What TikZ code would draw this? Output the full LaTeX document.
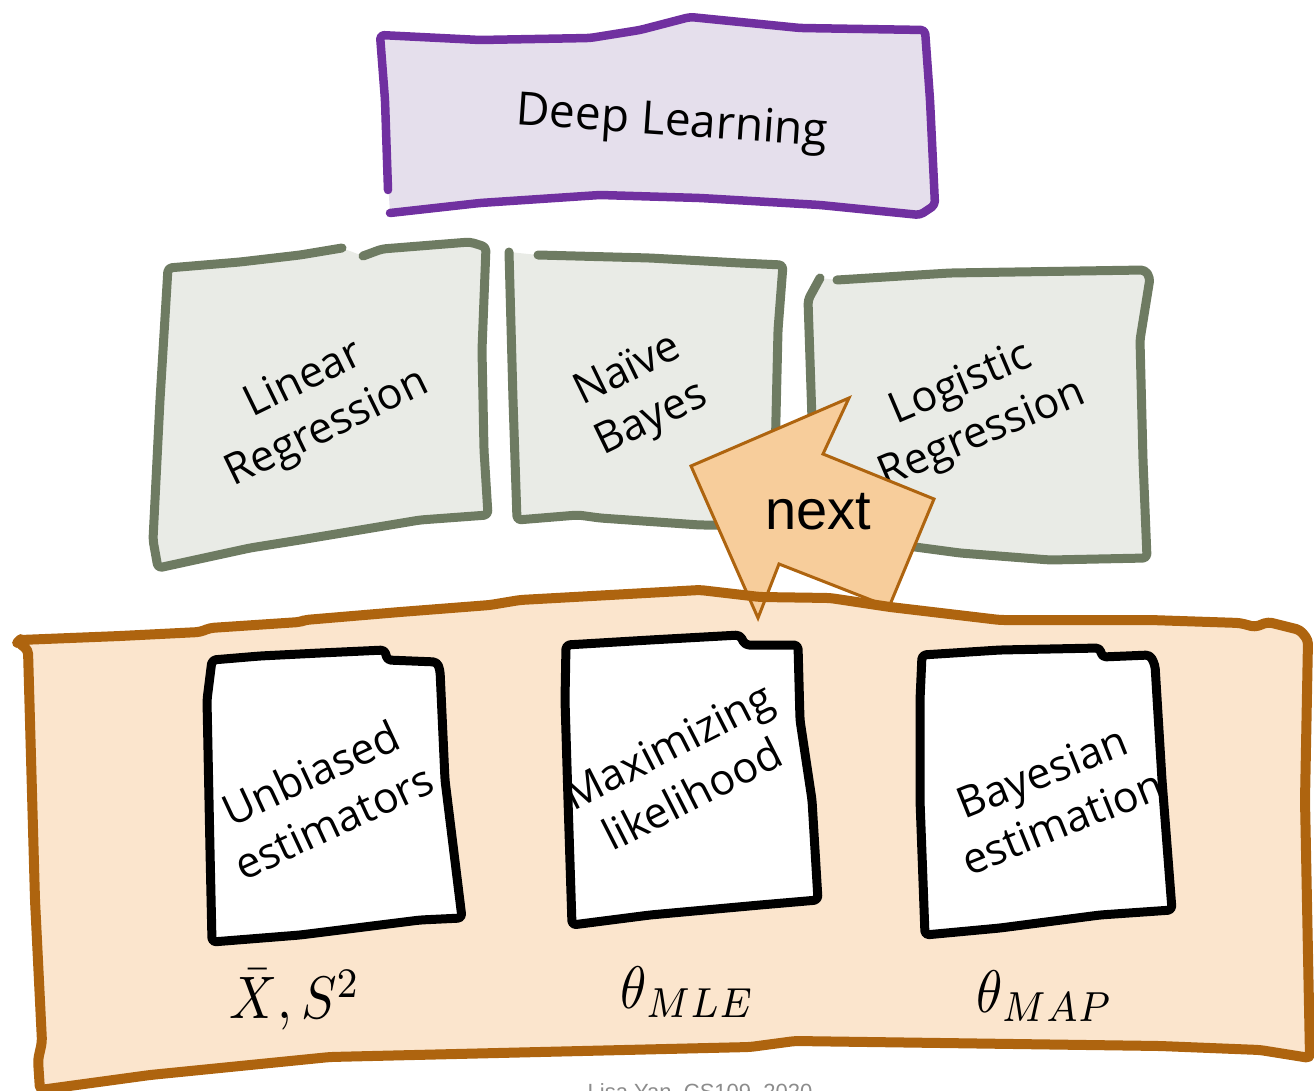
\documentclass[tikz,border=0pt]{standalone}
\usepackage{fontspec}
\usepackage{graphicx}
\setmainfont{Open Sans}
\newfontfamily\arialf{Liberation Sans}
\definecolor{purpB}{HTML}{7030A0}
\definecolor{purpF}{HTML}{E5DFEC}
\definecolor{grnB}{HTML}{6E7B62}
\definecolor{grnF}{HTML}{E9EBE6}
\definecolor{orgB}{HTML}{AE640F}
\definecolor{orgF}{HTML}{FBE5CD}
\definecolor{arrF}{HTML}{F7CD9B}
\definecolor{footG}{HTML}{8C8C8C}
\tikzset{
  edgeline/.style={line width=#1, line cap=round, line join=round, rounded corners=4pt},
  boxtext/.style={align=center, font=\fontsize{43}{54}\selectfont, inner sep=0pt},
  mathlbl/.style={inner sep=0pt},
}
\newcommand{\bigmath}[1]{\scalebox{5.3}[6.0]{$#1$}}
\begin{document}
\begin{tikzpicture}[x=1pt,y=-1pt]
\useasboundingbox (0,0) rectangle (1314,1091);
\clip (0,0) rectangle (1314,1091);
% Deep Learning
\fill[purpF, rounded corners=4pt] (380,35) -- (480,40) -- (590,38) -- (640,30) -- (690,17) -- (740,22) -- (800,28) -- (925,30) -- (930,100) -- (935,205) -- (920,215) -- (820,205) -- (700,198) -- (600,195) -- (480,203) -- (390,213) -- (388,180) -- (385,100) -- cycle;
\draw[purpB, edgeline=8.5pt] (388,190) -- (385,100) -- (380,35) -- (480,40) -- (590,38) -- (640,30) -- (690,17) -- (740,22) -- (800,28) -- (925,30) -- (930,100) -- (935,205) -- (920,215) -- (820,205) -- (700,198) -- (600,195) -- (480,203) -- (390,213);
\node[boxtext, font=\fontsize{46}{52}\selectfont, rotate=-4] (dl) at (672,124) {Deep Learning};
% Linear Regression
\fill[grnF, rounded corners=4pt] (363,256) -- (382,249) -- (470,242) -- (486,247) -- (482,350) -- (484,450) -- (488,515) -- (420,520) -- (300,540) -- (250,548) -- (158,568) -- (153,540) -- (160,400) -- (168,268) -- (240,262) -- (300,255) -- (342,248) -- cycle;
\draw[grnB, edgeline=9pt] (363,256) -- (382,249) -- (470,242) -- (486,247) -- (482,350) -- (484,450) -- (488,515) -- (420,520) -- (300,540) -- (250,548) -- (158,568) -- (153,540) -- (160,400) -- (168,268) -- (240,262) -- (300,255) -- (342,248);
\node[boxtext, rotate=26] (lr) at (316,405) {Linear\\Regression};
% Naive Bayes
\fill[grnF, rounded corners=4pt] (509,252) -- (538,255) -- (650,258) -- (740,263) -- (783,265) -- (778,330) -- (775,460) -- (775,525) -- (700,525) -- (600,518) -- (578,515) -- (517,520) -- (513,400) -- cycle;
\draw[grnB, edgeline=9pt] (538,255) -- (650,258) -- (740,263) -- (783,265) -- (778,330) -- (775,460) -- (775,525) -- (700,525) -- (600,518) -- (578,515) -- (517,520) -- (513,400) -- (509,252);
\node[boxtext, rotate=26] (nb) at (640,396) {Naïve\\Bayes};
% Logistic Regression
\fill[grnF, rounded corners=4pt] (837,280) -- (950,273) -- (1145,270) -- (1150,278) -- (1140,340) -- (1143,460) -- (1147,558) -- (1050,560) -- (960,553) -- (900,545) -- (815,540) -- (812,420) -- (808,300) -- (820,278) -- cycle;
\draw[grnB, edgeline=9pt] (837,280) -- (950,273) -- (1145,270) -- (1150,278) -- (1140,340) -- (1143,460) -- (1147,558) -- (1050,560) -- (960,553) -- (900,545) -- (815,540) -- (812,420) -- (808,300) -- (820,278);
\node[boxtext, rotate=23] (lg) at (972,410) {Logistic\\Regression};
% Orange base
\path[fill=orgF, rounded corners=4pt] (20,640) -- (120,636) -- (200,632) -- (210,628) -- (300,622) -- (305,620) -- (400,612) -- (490,605) -- (520,600) -- (700,590) -- (760,597) -- (830,598) -- (890,607) -- (1000,620) -- (1150,620) -- (1240,623) -- (1255,627) -- (1268,622) -- (1300,630) -- (1308,640) -- (1305,800) -- (1310,1058) -- (1260,1050) -- (1160,1046) -- (795,1041) -- (750,1047) -- (330,1057) -- (150,1075) -- (40,1090) -- (38,1060) -- (42,1042) -- (35,900) -- (28,650) -- (18,642) -- cycle;
% next arrow
\draw[orgB, fill=arrF, line width=3pt, line join=miter] (849,398) -- (691,466) -- (758,618) -- (779,564) -- (889,607) -- (934,499) -- (823,454) -- cycle;
\node[font=\arialf\fontsize{56}{60}\selectfont, inner sep=0pt] (nx) at (818,512) {next};
\draw[orgB, edgeline=10pt] (20,640) -- (120,636) -- (200,632) -- (210,628) -- (300,622) -- (305,620) -- (400,612) -- (490,605) -- (520,600) -- (700,590) -- (760,597) -- (830,598) -- (890,607) -- (1000,620) -- (1150,620) -- (1240,623) -- (1255,627) -- (1268,622) -- (1300,630) -- (1308,640) -- (1305,800) -- (1310,1058) -- (1260,1050) -- (1160,1046) -- (795,1041) -- (750,1047) -- (330,1057) -- (150,1075) -- (40,1090) -- (38,1060) -- (42,1042) -- (35,900) -- (28,650) -- (18,642) -- cycle;
% inner boxes
\draw[black, fill=white, edgeline=9pt] (212,660) -- (260,656) -- (320,653) -- (385,650) -- (387,660) -- (437,662) -- (440,670) -- (445,780) -- (462,918) -- (420,920) -- (300,935) -- (212,942) -- (210,850) -- (207,700) -- cycle;
\node[boxtext, rotate=25] (ub) at (322,797) {Unbiased\\estimators};
\draw[black, fill=white, edgeline=9pt] (566,645) -- (650,640) -- (740,635) -- (745,645) -- (798,645) -- (800,720) -- (812,800) -- (818,900) -- (760,905) -- (650,915) -- (572,925) -- (568,800) -- (565,700) -- cycle;
\node[boxtext, rotate=27] (ml) at (680,770) {Maximizing\\likelihood};
\draw[black, fill=white, edgeline=9pt] (922,655) -- (1000,650) -- (1100,648) -- (1102,657) -- (1150,655) -- (1155,665) -- (1162,780) -- (1172,910) -- (1100,915) -- (1000,928) -- (925,935) -- (920,800) -- (920,700) -- cycle;
\node[boxtext, rotate=22] (be) at (1052,797) {Bayesian\\estimation};
% math labels
\node[mathlbl] (m1) at (295,1000) {\bigmath{\bar{X}, S^2}};
\node[mathlbl] (m2) at (688,992) {\bigmath{\theta_{MLE}}};
\node[mathlbl] (m3) at (1045,996) {\bigmath{\theta_{MAP}}};
% footer
\node[font=\arialf\fontsize{22}{24}\selectfont, text=footG, anchor=north, inner sep=0pt] (ft) at (700,1083) {Lisa Yan, CS109, 2020};
\end{tikzpicture}
\end{document}
